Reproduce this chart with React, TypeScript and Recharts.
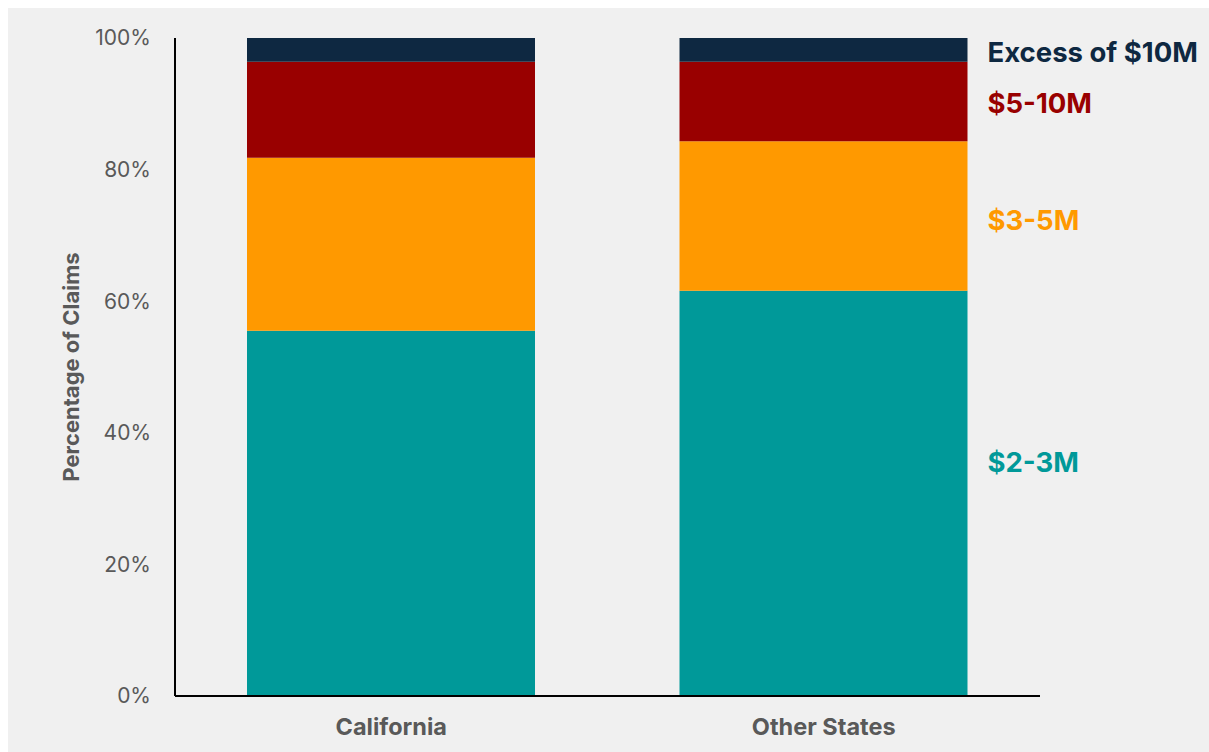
import React from "react";
import { BarChart, Bar, XAxis, YAxis, LabelList } from "recharts";

const states = ["California", "Other States"];
const claims2to3 = [55.5, 61.6];
const claims3to5 = [26.3, 22.7];
const claims5to10 = [14.6, 12.1];
const claimsOver10 = [3.6, 3.6];
const yTicks = [0, 20, 40, 60, 80, 100];

const series = [
	{ key: "m2to3", name: "$2-3M", color: "#009999", values: claims2to3, nudge: -31 },
	{ key: "m3to5", name: "$3-5M", color: "#ff9900", values: claims3to5, nudge: 4 },
	{ key: "m5to10", name: "$5-10M", color: "#990000", values: claims5to10, nudge: 2 },
	{ key: "over10", name: "Excess of $10M", color: "#0e2841", values: claimsOver10, nudge: 2 }
];

const data = states.map((state, i) => {
	const row: Record<string, string | number> = { state };
	series.forEach((s) => {
		row[s.key] = s.values[i];
	});
	return row;
});

const FONT = "Inter, 'Noto Sans', sans-serif";

const makeLabel = (name: string, color: string, nudge: number) => (props: any) => {
	const { x, y, width, height, index } = props;
	if (index !== states.length - 1) return null;
	return (
		<text
			x={Number(x) + Number(width) + 20}
			y={Number(y) + Number(height) / 2 + nudge}
			fill={color}
			fontFamily={FONT}
			fontWeight={700}
			fontSize={27.5}
			dominantBaseline="central"
		>
			{name}
		</text>
	);
};

const App = () => {
	return (
		<div
			style={{
				position: "fixed",
				left: 8,
				top: 8,
				width: 1201,
				height: 744,
				background: "#f0f0f0"
			}}
		>
			<BarChart
				width={1201}
				height={744}
				data={data}
				margin={{ top: 30, right: 169, left: 0, bottom: 0 }}
			>
				<XAxis
					dataKey="state"
					height={56}
					tickLine={false}
					axisLine={{ stroke: "#000", strokeWidth: 2 }}
					tickMargin={16}
					tick={{ fill: "#595959", fontFamily: FONT, fontWeight: 700, fontSize: 23.5 }}
				/>
				<YAxis
					width={167}
					domain={[0, 100]}
					ticks={yTicks}
					tickFormatter={(v) => `${v}%`}
					tickLine={false}
					axisLine={{ stroke: "#000", strokeWidth: 2 }}
					tickMargin={18}
					tick={{ fill: "#595959", fontFamily: FONT, fontSize: 21 }}
					label={{
						value: "Percentage of Claims",
						angle: -90,
						position: "center",
						dx: -20,
						fill: "#595959",
						fontFamily: FONT,
						fontWeight: 700,
						fontSize: 22
					}}
				/>
				{series.map((s) => (
					<Bar
						key={s.key}
						dataKey={s.key}
						stackId="a"
						fill={s.color}
						barSize={288}
						isAnimationActive={false}
					>
						<LabelList dataKey={s.key} content={makeLabel(s.name, s.color, s.nudge)} />
					</Bar>
				))}
			</BarChart>
		</div>
	);
};

export default App;
